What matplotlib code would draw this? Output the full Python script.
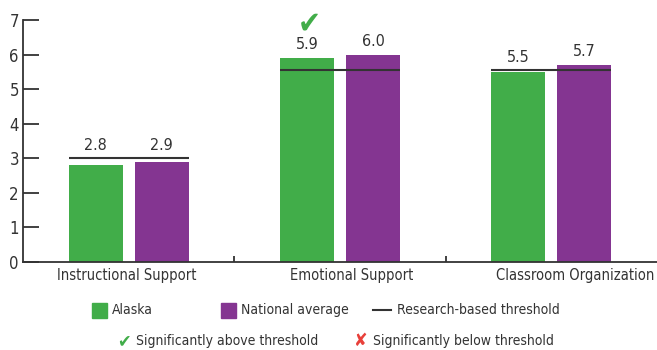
import matplotlib.pyplot as plt
from matplotlib.patches import Rectangle
from matplotlib.lines import Line2D

# =============================
# Data
# =============================
categories = ["Instructional Support", "Emotional Support", "Classroom Organization"]
alaska = [2.8, 5.9, 5.5]
national = [2.9, 6.0, 5.7]
threshold = [3.0, 5.55, 5.55]
above = [False, True, False]   # Alaska significantly above threshold
below = [False, False, False]  # Alaska significantly below threshold

GREEN = "#41AD49"
PURPLE = "#843591"
DARK = "#333333"

plt.rcParams["font.family"] = ["DejaVu Sans"]
plt.rcParams["font.stretch"] = "condensed"
plt.rcParams["text.color"] = DARK

# =============================
# Plot
# =============================
W, H = 657, 350
fig = plt.figure(figsize=(W / 100, H / 100), dpi=100)
ax = fig.add_axes([23 / W, 88 / H, 634 / W, 242 / H])

bw = 0.256
off = 0.156
for i in range(len(categories)):
    c = i + 0.5
    ax.bar(c - off, alaska[i], bw, color=GREEN, zorder=2)
    ax.bar(c + off, national[i], bw, color=PURPLE, zorder=2)
    ax.plot([c - off - bw / 2, c + off + bw / 2], [threshold[i]] * 2,
            color=DARK, lw=1.5, zorder=3, solid_capstyle="butt")
    for x, v in [(c - off, alaska[i]), (c + off, national[i])]:
        ax.annotate(f"{v:.1f}", (x, max(v, threshold[i])), xytext=(0, 4),
                    textcoords="offset points", ha="center", va="bottom",
                    fontsize=11.5, color=DARK)
    if above[i]:
        ax.annotate("\u2714", (c - off, alaska[i]), xytext=(2, 14),
                    textcoords="offset points", ha="center", va="bottom",
                    fontsize=22, color=GREEN)
    if below[i]:
        ax.annotate("\u2718", (c - off, alaska[i]), xytext=(2, 14),
                    textcoords="offset points", ha="center", va="bottom",
                    fontsize=22, color="#E8403A")

ax.set_xlim(0, 3)
ax.set_ylim(0, 7)
ax.set_yticks(range(8))
ax.set_xticks([1, 2])
ax.set_xticklabels([])
for s in ["top", "right"]:
    ax.spines[s].set_visible(False)
for s in ["left", "bottom"]:
    ax.spines[s].set_color(DARK)
    ax.spines[s].set_linewidth(1.3)
ax.tick_params(axis="y", direction="in", length=11.5, width=1.3, color=DARK,
               labelsize=12, labelcolor=DARK, pad=3)
ax.tick_params(axis="x", direction="in", length=4.5, width=1.3, color=DARK)

label_shift = [-0.007, 0.055, 0.113]
for i, name in enumerate(categories):
    ax.text(i + 0.5 + label_shift[i], -0.16, name, ha="center", va="top",
            fontsize=10.5, transform=ax.transData, color=DARK)

# =============================
# Legend (manual, figure pixels)
# =============================
def fx(px):
    return px / W

def fy(py):
    return 1 - py / H

sq = 15
for x0, col, lab in [(92, GREEN, "Alaska"), (221, PURPLE, "National average")]:
    fig.patches.append(Rectangle((fx(x0), fy(310 + sq / 2)), sq / W, sq / H,
                                 transform=fig.transFigure, color=col))
    fig.text(fx(x0 + 20), fy(310), lab, ha="left", va="center", fontsize=10)
fig.lines.append(Line2D([fx(373), fx(391)], [fy(310), fy(310)],
                        transform=fig.transFigure, color=DARK, lw=1.5))
fig.text(fx(397), fy(310), "Research-based threshold", ha="left", va="center", fontsize=10)

fig.text(fx(117), fy(341), "\u2714", ha="left", va="center", fontsize=13,
         color=GREEN)
fig.text(fx(136), fy(341), "Significantly above threshold", ha="left", va="center", fontsize=10)
fig.text(fx(354), fy(341), "\u2718", ha="left", va="center", fontsize=13,
         color="#E8403A")
fig.text(fx(373), fy(341), "Significantly below threshold", ha="left", va="center", fontsize=10)

fig.savefig("out.png", dpi=100)
